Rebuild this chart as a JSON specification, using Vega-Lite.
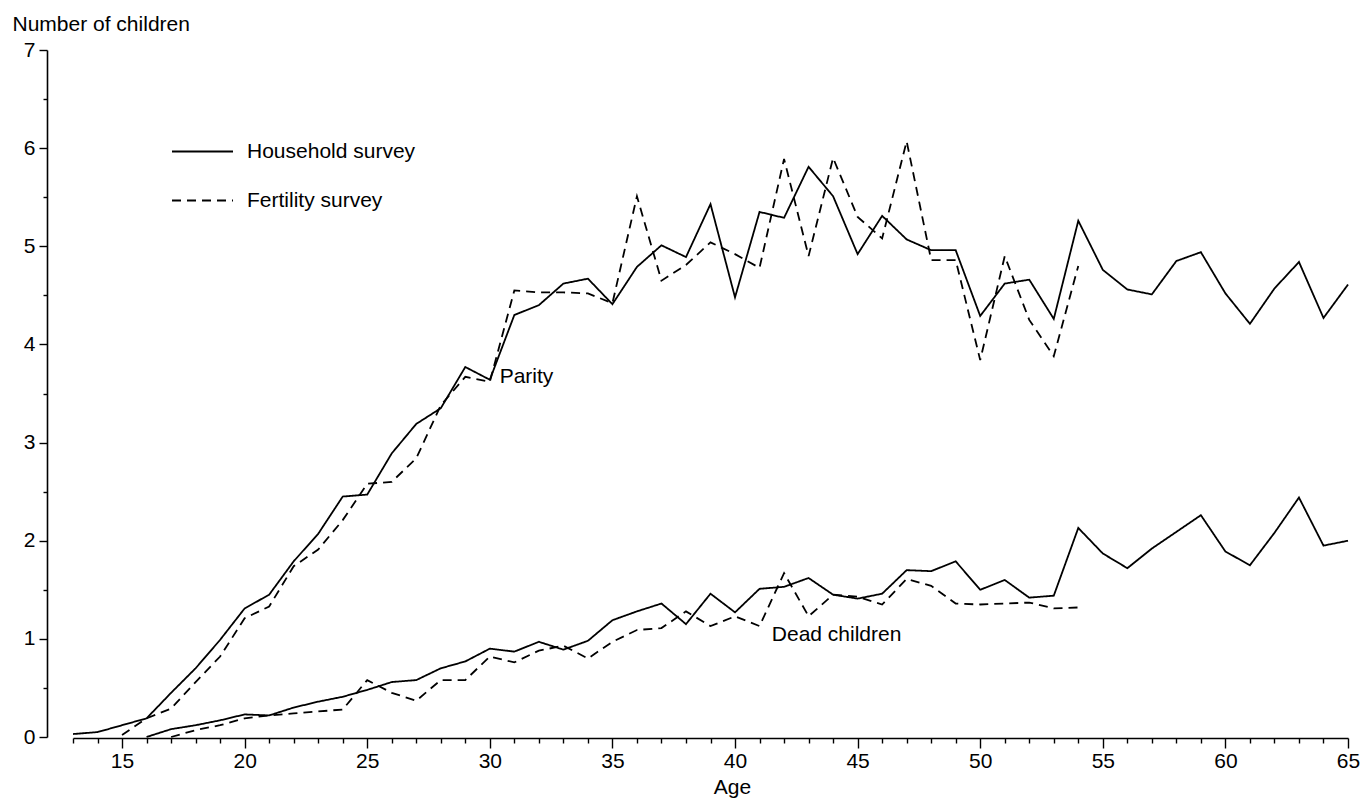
{
  "$schema": "https://vega.github.io/schema/vega-lite/v6.json",
  "width": 1275,
  "height": 687,
  "autosize": "none",
  "padding": {"left": 73, "top": 50, "right": 17, "bottom": 61},
  "background": "white",
  "config": {
    "view": {"stroke": null},
    "font": "Liberation Sans",
    "axis": {
      "grid": false,
      "domainColor": "black",
      "domainWidth": 1.6,
      "tickColor": "black",
      "tickWidth": 1.4,
      "labelColor": "black",
      "labelFontSize": 21,
      "titleColor": "black",
      "titleFontSize": 21,
      "titleFontWeight": "normal"
    }
  },
  "datasets": {
    "survey": [
      {"age": 13, "children": 0.03, "survey": "Household survey", "series": "Parity"},
      {"age": 14, "children": 0.05, "survey": "Household survey", "series": "Parity"},
      {"age": 15, "children": 0.12, "survey": "Household survey", "series": "Parity"},
      {"age": 16, "children": 0.19, "survey": "Household survey", "series": "Parity"},
      {"age": 17, "children": 0.45, "survey": "Household survey", "series": "Parity"},
      {"age": 18, "children": 0.70, "survey": "Household survey", "series": "Parity"},
      {"age": 19, "children": 0.99, "survey": "Household survey", "series": "Parity"},
      {"age": 20, "children": 1.31, "survey": "Household survey", "series": "Parity"},
      {"age": 21, "children": 1.45, "survey": "Household survey", "series": "Parity"},
      {"age": 22, "children": 1.79, "survey": "Household survey", "series": "Parity"},
      {"age": 23, "children": 2.07, "survey": "Household survey", "series": "Parity"},
      {"age": 24, "children": 2.45, "survey": "Household survey", "series": "Parity"},
      {"age": 25, "children": 2.47, "survey": "Household survey", "series": "Parity"},
      {"age": 26, "children": 2.89, "survey": "Household survey", "series": "Parity"},
      {"age": 27, "children": 3.19, "survey": "Household survey", "series": "Parity"},
      {"age": 28, "children": 3.35, "survey": "Household survey", "series": "Parity"},
      {"age": 29, "children": 3.77, "survey": "Household survey", "series": "Parity"},
      {"age": 30, "children": 3.64, "survey": "Household survey", "series": "Parity"},
      {"age": 31, "children": 4.30, "survey": "Household survey", "series": "Parity"},
      {"age": 32, "children": 4.40, "survey": "Household survey", "series": "Parity"},
      {"age": 33, "children": 4.62, "survey": "Household survey", "series": "Parity"},
      {"age": 34, "children": 4.67, "survey": "Household survey", "series": "Parity"},
      {"age": 35, "children": 4.41, "survey": "Household survey", "series": "Parity"},
      {"age": 36, "children": 4.79, "survey": "Household survey", "series": "Parity"},
      {"age": 37, "children": 5.01, "survey": "Household survey", "series": "Parity"},
      {"age": 38, "children": 4.89, "survey": "Household survey", "series": "Parity"},
      {"age": 39, "children": 5.43, "survey": "Household survey", "series": "Parity"},
      {"age": 40, "children": 4.48, "survey": "Household survey", "series": "Parity"},
      {"age": 41, "children": 5.35, "survey": "Household survey", "series": "Parity"},
      {"age": 42, "children": 5.29, "survey": "Household survey", "series": "Parity"},
      {"age": 43, "children": 5.81, "survey": "Household survey", "series": "Parity"},
      {"age": 44, "children": 5.51, "survey": "Household survey", "series": "Parity"},
      {"age": 45, "children": 4.92, "survey": "Household survey", "series": "Parity"},
      {"age": 46, "children": 5.31, "survey": "Household survey", "series": "Parity"},
      {"age": 47, "children": 5.07, "survey": "Household survey", "series": "Parity"},
      {"age": 48, "children": 4.96, "survey": "Household survey", "series": "Parity"},
      {"age": 49, "children": 4.96, "survey": "Household survey", "series": "Parity"},
      {"age": 50, "children": 4.29, "survey": "Household survey", "series": "Parity"},
      {"age": 51, "children": 4.62, "survey": "Household survey", "series": "Parity"},
      {"age": 52, "children": 4.66, "survey": "Household survey", "series": "Parity"},
      {"age": 53, "children": 4.26, "survey": "Household survey", "series": "Parity"},
      {"age": 54, "children": 5.26, "survey": "Household survey", "series": "Parity"},
      {"age": 55, "children": 4.76, "survey": "Household survey", "series": "Parity"},
      {"age": 56, "children": 4.56, "survey": "Household survey", "series": "Parity"},
      {"age": 57, "children": 4.51, "survey": "Household survey", "series": "Parity"},
      {"age": 58, "children": 4.85, "survey": "Household survey", "series": "Parity"},
      {"age": 59, "children": 4.94, "survey": "Household survey", "series": "Parity"},
      {"age": 60, "children": 4.52, "survey": "Household survey", "series": "Parity"},
      {"age": 61, "children": 4.21, "survey": "Household survey", "series": "Parity"},
      {"age": 62, "children": 4.57, "survey": "Household survey", "series": "Parity"},
      {"age": 63, "children": 4.84, "survey": "Household survey", "series": "Parity"},
      {"age": 64, "children": 4.27, "survey": "Household survey", "series": "Parity"},
      {"age": 65, "children": 4.61, "survey": "Household survey", "series": "Parity"},

      {"age": 15, "children": 0.02, "survey": "Fertility survey", "series": "Parity"},
      {"age": 16, "children": 0.19, "survey": "Fertility survey", "series": "Parity"},
      {"age": 17, "children": 0.29, "survey": "Fertility survey", "series": "Parity"},
      {"age": 18, "children": 0.56, "survey": "Fertility survey", "series": "Parity"},
      {"age": 19, "children": 0.82, "survey": "Fertility survey", "series": "Parity"},
      {"age": 20, "children": 1.21, "survey": "Fertility survey", "series": "Parity"},
      {"age": 21, "children": 1.33, "survey": "Fertility survey", "series": "Parity"},
      {"age": 22, "children": 1.74, "survey": "Fertility survey", "series": "Parity"},
      {"age": 23, "children": 1.91, "survey": "Fertility survey", "series": "Parity"},
      {"age": 24, "children": 2.21, "survey": "Fertility survey", "series": "Parity"},
      {"age": 25, "children": 2.58, "survey": "Fertility survey", "series": "Parity"},
      {"age": 26, "children": 2.60, "survey": "Fertility survey", "series": "Parity"},
      {"age": 27, "children": 2.84, "survey": "Fertility survey", "series": "Parity"},
      {"age": 28, "children": 3.38, "survey": "Fertility survey", "series": "Parity"},
      {"age": 29, "children": 3.67, "survey": "Fertility survey", "series": "Parity"},
      {"age": 30, "children": 3.62, "survey": "Fertility survey", "series": "Parity"},
      {"age": 31, "children": 4.55, "survey": "Fertility survey", "series": "Parity"},
      {"age": 32, "children": 4.53, "survey": "Fertility survey", "series": "Parity"},
      {"age": 33, "children": 4.53, "survey": "Fertility survey", "series": "Parity"},
      {"age": 34, "children": 4.52, "survey": "Fertility survey", "series": "Parity"},
      {"age": 35, "children": 4.42, "survey": "Fertility survey", "series": "Parity"},
      {"age": 36, "children": 5.51, "survey": "Fertility survey", "series": "Parity"},
      {"age": 37, "children": 4.65, "survey": "Fertility survey", "series": "Parity"},
      {"age": 38, "children": 4.81, "survey": "Fertility survey", "series": "Parity"},
      {"age": 39, "children": 5.04, "survey": "Fertility survey", "series": "Parity"},
      {"age": 40, "children": 4.92, "survey": "Fertility survey", "series": "Parity"},
      {"age": 41, "children": 4.78, "survey": "Fertility survey", "series": "Parity"},
      {"age": 42, "children": 5.89, "survey": "Fertility survey", "series": "Parity"},
      {"age": 43, "children": 4.90, "survey": "Fertility survey", "series": "Parity"},
      {"age": 44, "children": 5.90, "survey": "Fertility survey", "series": "Parity"},
      {"age": 45, "children": 5.30, "survey": "Fertility survey", "series": "Parity"},
      {"age": 46, "children": 5.08, "survey": "Fertility survey", "series": "Parity"},
      {"age": 47, "children": 6.07, "survey": "Fertility survey", "series": "Parity"},
      {"age": 48, "children": 4.86, "survey": "Fertility survey", "series": "Parity"},
      {"age": 49, "children": 4.86, "survey": "Fertility survey", "series": "Parity"},
      {"age": 50, "children": 3.84, "survey": "Fertility survey", "series": "Parity"},
      {"age": 51, "children": 4.90, "survey": "Fertility survey", "series": "Parity"},
      {"age": 52, "children": 4.25, "survey": "Fertility survey", "series": "Parity"},
      {"age": 53, "children": 3.88, "survey": "Fertility survey", "series": "Parity"},
      {"age": 54, "children": 4.80, "survey": "Fertility survey", "series": "Parity"},

      {"age": 16, "children": 0.00, "survey": "Household survey", "series": "Dead children"},
      {"age": 17, "children": 0.08, "survey": "Household survey", "series": "Dead children"},
      {"age": 18, "children": 0.12, "survey": "Household survey", "series": "Dead children"},
      {"age": 19, "children": 0.17, "survey": "Household survey", "series": "Dead children"},
      {"age": 20, "children": 0.23, "survey": "Household survey", "series": "Dead children"},
      {"age": 21, "children": 0.22, "survey": "Household survey", "series": "Dead children"},
      {"age": 22, "children": 0.30, "survey": "Household survey", "series": "Dead children"},
      {"age": 23, "children": 0.36, "survey": "Household survey", "series": "Dead children"},
      {"age": 24, "children": 0.41, "survey": "Household survey", "series": "Dead children"},
      {"age": 25, "children": 0.48, "survey": "Household survey", "series": "Dead children"},
      {"age": 26, "children": 0.56, "survey": "Household survey", "series": "Dead children"},
      {"age": 27, "children": 0.58, "survey": "Household survey", "series": "Dead children"},
      {"age": 28, "children": 0.70, "survey": "Household survey", "series": "Dead children"},
      {"age": 29, "children": 0.77, "survey": "Household survey", "series": "Dead children"},
      {"age": 30, "children": 0.90, "survey": "Household survey", "series": "Dead children"},
      {"age": 31, "children": 0.87, "survey": "Household survey", "series": "Dead children"},
      {"age": 32, "children": 0.97, "survey": "Household survey", "series": "Dead children"},
      {"age": 33, "children": 0.89, "survey": "Household survey", "series": "Dead children"},
      {"age": 34, "children": 0.98, "survey": "Household survey", "series": "Dead children"},
      {"age": 35, "children": 1.19, "survey": "Household survey", "series": "Dead children"},
      {"age": 36, "children": 1.28, "survey": "Household survey", "series": "Dead children"},
      {"age": 37, "children": 1.36, "survey": "Household survey", "series": "Dead children"},
      {"age": 38, "children": 1.15, "survey": "Household survey", "series": "Dead children"},
      {"age": 39, "children": 1.46, "survey": "Household survey", "series": "Dead children"},
      {"age": 40, "children": 1.27, "survey": "Household survey", "series": "Dead children"},
      {"age": 41, "children": 1.51, "survey": "Household survey", "series": "Dead children"},
      {"age": 42, "children": 1.53, "survey": "Household survey", "series": "Dead children"},
      {"age": 43, "children": 1.62, "survey": "Household survey", "series": "Dead children"},
      {"age": 44, "children": 1.45, "survey": "Household survey", "series": "Dead children"},
      {"age": 45, "children": 1.41, "survey": "Household survey", "series": "Dead children"},
      {"age": 46, "children": 1.46, "survey": "Household survey", "series": "Dead children"},
      {"age": 47, "children": 1.70, "survey": "Household survey", "series": "Dead children"},
      {"age": 48, "children": 1.69, "survey": "Household survey", "series": "Dead children"},
      {"age": 49, "children": 1.79, "survey": "Household survey", "series": "Dead children"},
      {"age": 50, "children": 1.50, "survey": "Household survey", "series": "Dead children"},
      {"age": 51, "children": 1.60, "survey": "Household survey", "series": "Dead children"},
      {"age": 52, "children": 1.42, "survey": "Household survey", "series": "Dead children"},
      {"age": 53, "children": 1.44, "survey": "Household survey", "series": "Dead children"},
      {"age": 54, "children": 2.13, "survey": "Household survey", "series": "Dead children"},
      {"age": 55, "children": 1.87, "survey": "Household survey", "series": "Dead children"},
      {"age": 56, "children": 1.72, "survey": "Household survey", "series": "Dead children"},
      {"age": 57, "children": 1.92, "survey": "Household survey", "series": "Dead children"},
      {"age": 58, "children": 2.09, "survey": "Household survey", "series": "Dead children"},
      {"age": 59, "children": 2.26, "survey": "Household survey", "series": "Dead children"},
      {"age": 60, "children": 1.89, "survey": "Household survey", "series": "Dead children"},
      {"age": 61, "children": 1.75, "survey": "Household survey", "series": "Dead children"},
      {"age": 62, "children": 2.08, "survey": "Household survey", "series": "Dead children"},
      {"age": 63, "children": 2.44, "survey": "Household survey", "series": "Dead children"},
      {"age": 64, "children": 1.95, "survey": "Household survey", "series": "Dead children"},
      {"age": 65, "children": 2.00, "survey": "Household survey", "series": "Dead children"},

      {"age": 17, "children": 0.00, "survey": "Fertility survey", "series": "Dead children"},
      {"age": 18, "children": 0.07, "survey": "Fertility survey", "series": "Dead children"},
      {"age": 19, "children": 0.12, "survey": "Fertility survey", "series": "Dead children"},
      {"age": 20, "children": 0.19, "survey": "Fertility survey", "series": "Dead children"},
      {"age": 21, "children": 0.22, "survey": "Fertility survey", "series": "Dead children"},
      {"age": 22, "children": 0.24, "survey": "Fertility survey", "series": "Dead children"},
      {"age": 23, "children": 0.26, "survey": "Fertility survey", "series": "Dead children"},
      {"age": 24, "children": 0.28, "survey": "Fertility survey", "series": "Dead children"},
      {"age": 25, "children": 0.58, "survey": "Fertility survey", "series": "Dead children"},
      {"age": 26, "children": 0.45, "survey": "Fertility survey", "series": "Dead children"},
      {"age": 27, "children": 0.37, "survey": "Fertility survey", "series": "Dead children"},
      {"age": 28, "children": 0.58, "survey": "Fertility survey", "series": "Dead children"},
      {"age": 29, "children": 0.58, "survey": "Fertility survey", "series": "Dead children"},
      {"age": 30, "children": 0.82, "survey": "Fertility survey", "series": "Dead children"},
      {"age": 31, "children": 0.76, "survey": "Fertility survey", "series": "Dead children"},
      {"age": 32, "children": 0.88, "survey": "Fertility survey", "series": "Dead children"},
      {"age": 33, "children": 0.93, "survey": "Fertility survey", "series": "Dead children"},
      {"age": 34, "children": 0.80, "survey": "Fertility survey", "series": "Dead children"},
      {"age": 35, "children": 0.97, "survey": "Fertility survey", "series": "Dead children"},
      {"age": 36, "children": 1.09, "survey": "Fertility survey", "series": "Dead children"},
      {"age": 37, "children": 1.11, "survey": "Fertility survey", "series": "Dead children"},
      {"age": 38, "children": 1.28, "survey": "Fertility survey", "series": "Dead children"},
      {"age": 39, "children": 1.13, "survey": "Fertility survey", "series": "Dead children"},
      {"age": 40, "children": 1.23, "survey": "Fertility survey", "series": "Dead children"},
      {"age": 41, "children": 1.13, "survey": "Fertility survey", "series": "Dead children"},
      {"age": 42, "children": 1.67, "survey": "Fertility survey", "series": "Dead children"},
      {"age": 43, "children": 1.23, "survey": "Fertility survey", "series": "Dead children"},
      {"age": 44, "children": 1.45, "survey": "Fertility survey", "series": "Dead children"},
      {"age": 45, "children": 1.43, "survey": "Fertility survey", "series": "Dead children"},
      {"age": 46, "children": 1.35, "survey": "Fertility survey", "series": "Dead children"},
      {"age": 47, "children": 1.61, "survey": "Fertility survey", "series": "Dead children"},
      {"age": 48, "children": 1.54, "survey": "Fertility survey", "series": "Dead children"},
      {"age": 49, "children": 1.36, "survey": "Fertility survey", "series": "Dead children"},
      {"age": 50, "children": 1.35, "survey": "Fertility survey", "series": "Dead children"},
      {"age": 51, "children": 1.36, "survey": "Fertility survey", "series": "Dead children"},
      {"age": 52, "children": 1.37, "survey": "Fertility survey", "series": "Dead children"},
      {"age": 53, "children": 1.31, "survey": "Fertility survey", "series": "Dead children"},
      {"age": 54, "children": 1.32, "survey": "Fertility survey", "series": "Dead children"}
    ],
    "labels": [
      {"age": 30.4, "children": 3.67, "label": "Parity"},
      {"age": 41.5, "children": 1.04, "label": "Dead children"}
    ]
  },
  "resolve": {"axis": {"x": "independent", "y": "independent"}},
  "layer": [
    {
      "data": {"name": "survey"},
      "mark": {"type": "line", "color": "black", "strokeWidth": 1.8},
      "encoding": {
        "x": {
          "field": "age",
          "type": "quantitative",
          "scale": {"domain": [13, 65], "nice": false, "zero": false},
          "axis": {
            "orient": "bottom",
            "title": "Age",
            "titleX": 659,
            "titlePadding": 5,
            "offset": 1,
            "values": [15, 20, 25, 30, 35, 40, 45, 50, 55, 60, 65],
            "format": "d",
            "tickSize": 10,
            "labelPadding": 2,
            "labelFlush": false,
            "labelOverlap": false
          }
        },
        "y": {
          "field": "children",
          "type": "quantitative",
          "scale": {"domain": [0, 7], "nice": false},
          "axis": {
            "orient": "left",
            "title": "Number of children",
            "titleAngle": 0,
            "titleAlign": "left",
            "titleBaseline": "alphabetic",
            "titleX": -35,
            "titleY": -20,
            "offset": 26,
            "values": [0, 1, 2, 3, 4, 5, 6, 7],
            "format": "d",
            "tickSize": 8,
            "labelPadding": 4,
            "labelFlush": false,
            "labelOverlap": false
          }
        },
        "strokeDash": {
          "field": "survey",
          "type": "nominal",
          "scale": {"domain": ["Household survey", "Fertility survey"], "range": [[1, 0], [9, 6]]},
          "legend": {
            "title": null,
            "orient": "none",
            "legendX": 98,
            "legendY": 70,
            "padding": 0,
            "symbolType": "stroke",
            "symbolSize": 3721,
            "symbolStrokeWidth": 1.8,
            "symbolStrokeColor": "black",
            "labelFontSize": 21,
            "labelColor": "black",
            "labelOffset": 13,
            "labelLimit": 400,
            "rowPadding": 7
          }
        },
        "detail": {"field": "series"}
      }
    },
    {
      "data": {"name": "labels"},
      "mark": {"type": "text", "align": "left", "baseline": "middle", "fontSize": 21, "color": "black"},
      "encoding": {
        "x": {
          "field": "age",
          "type": "quantitative",
          "axis": {
            "orient": "bottom",
            "title": null,
            "offset": 1,
            "labels": false,
            "domain": false,
            "tickSize": 5,
            "values": [13, 14, 16, 17, 18, 19, 21, 22, 23, 24, 26, 27, 28, 29, 31, 32, 33, 34, 36, 37, 38, 39, 41, 42, 43, 44, 46, 47, 48, 49, 51, 52, 53, 54, 56, 57, 58, 59, 61, 62, 63, 64]
          }
        },
        "y": {
          "field": "children",
          "type": "quantitative",
          "axis": {
            "orient": "left",
            "title": null,
            "offset": 26,
            "labels": false,
            "domain": false,
            "tickSize": 4,
            "values": [0.5, 1.5, 2.5, 3.5, 4.5, 5.5, 6.5]
          }
        },
        "text": {"field": "label"}
      }
    }
  ]
}
